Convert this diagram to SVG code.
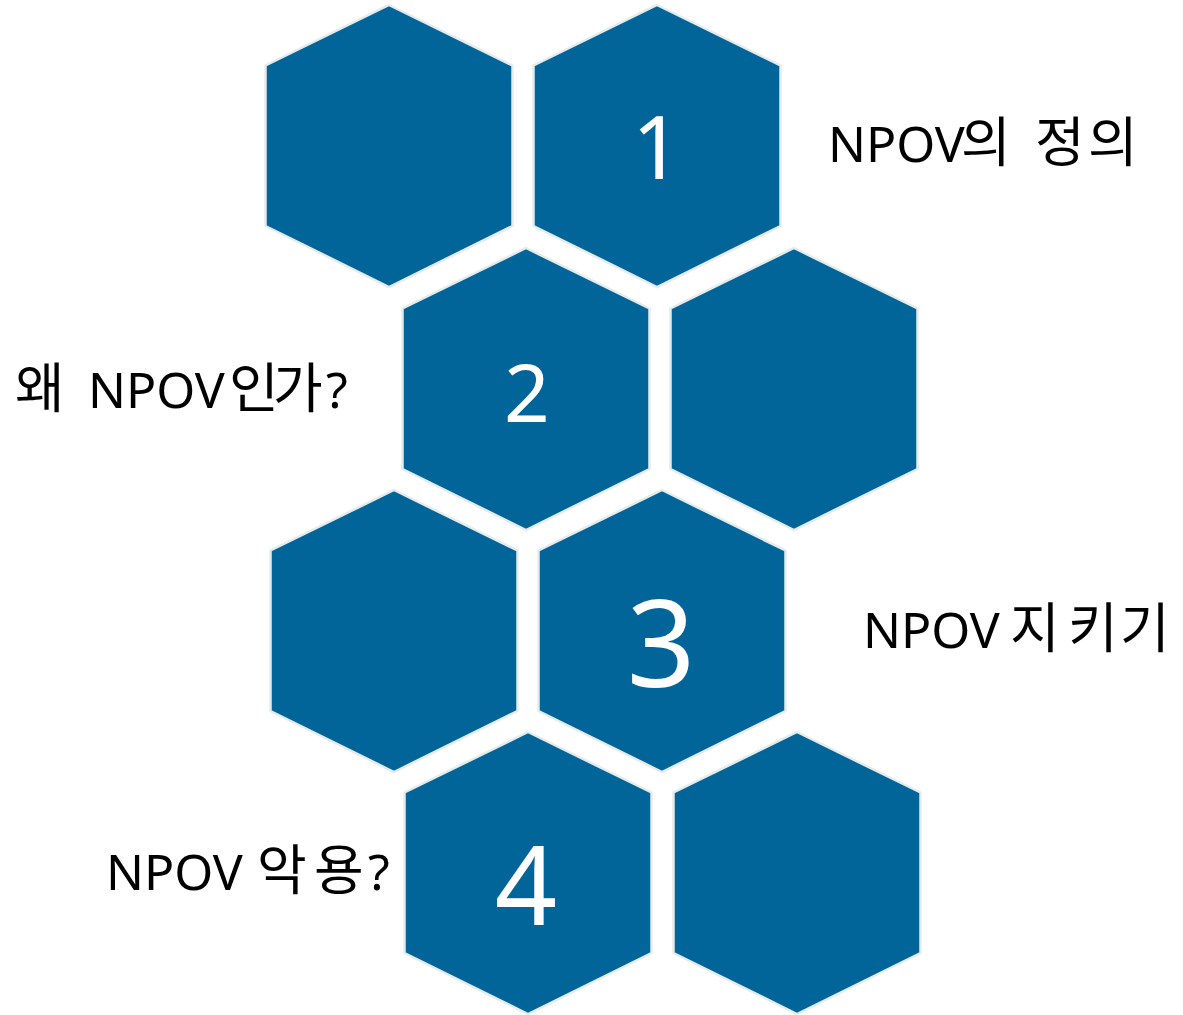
<svg xmlns="http://www.w3.org/2000/svg" width="1183" height="1015" viewBox="0 0 1183 1015">
<style>
.hex{fill:#02659A;stroke:#E6ECEB;stroke-width:2.5;stroke-linejoin:miter}
.num{fill:#FFFFFF;font-family:"Noto Sans",sans-serif;text-anchor:middle}
.lbl{fill:#000000;font-family:"Noto Sans","Noto Sans CJK KR",sans-serif;font-size:50px}
.ko{font-family:"Noto Sans CJK KR",sans-serif;font-size:54px}
</style>
<defs>
<polygon id="h" points="0,0 123.5,60.5 123.5,221 0,282 -123.5,221 -123.5,60.5"/>
</defs>
<rect width="1183" height="1015" fill="#FFFFFF"/>
<g id="hexA"><use href="#h" class="hex" x="389" y="5"/></g>
<g id="hex1"><use href="#h" class="hex" x="657" y="5"/><text class="num" x="657" y="179" font-size="87">1</text></g>
<g id="hex2"><use href="#h" class="hex" x="526" y="248"/><text class="num" x="527" y="422" font-size="80">2</text></g>
<g id="hexD"><use href="#h" class="hex" x="794" y="248"/></g>
<g id="hexE"><use href="#h" class="hex" x="394" y="490"/></g>
<g id="hex3"><use href="#h" class="hex" x="662" y="490"/><text class="num" x="661" y="687" font-size="120">3</text></g>
<g id="hex4"><use href="#h" class="hex" x="528" y="732"/><text class="num" x="526" y="925" font-size="109">4</text></g>
<g id="hexH"><use href="#h" class="hex" x="797" y="732"/></g>
<g id="labels">
<text class="lbl" y="162"><tspan x="828">NPOV</tspan><tspan class="ko" x="961">의</tspan><tspan class="ko" x="1035 1088">정의</tspan></text>
<text class="lbl" y="408"><tspan class="ko" x="15">왜</tspan><tspan x="88">NPOV</tspan><tspan class="ko" x="229 273" font-size="48">인가</tspan><tspan x="326">?</tspan></text>
<text class="lbl" y="648"><tspan x="863">NPOV</tspan><tspan class="ko" x="1010 1068 1120">지키기</tspan></text>
<text class="lbl" y="890"><tspan x="106">NPOV</tspan><tspan class="ko" x="257 314">악용</tspan><tspan x="368">?</tspan></text>
</g>
<g id="connectors"/>
</svg>
